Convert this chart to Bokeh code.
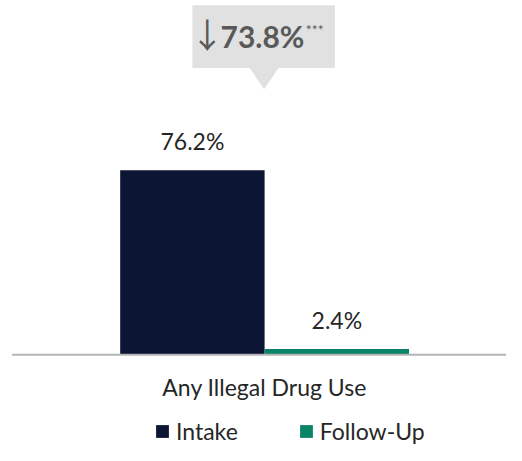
from bokeh.plotting import figure
from bokeh.models import Range1d, ColumnDataSource, Legend, LegendItem
from bokeh.core.properties import value
from bokeh.embed import file_html
from bokeh.resources import INLINE

# ---- data ----
categories = ["Any Illegal Drug Use"]
series = ["Intake", "Follow-Up"]
intake = [76.2]
follow_up = [2.4]
change = ["73.8%"]
colors = ["#0D1535", "#098467"]

FONT = "Lato"
W, H = 506, 445
X0, X1 = -0.5486, 0.5025

p = figure(width=W, height=H, output_backend="svg", toolbar_location=None,
           x_range=Range1d(X0, X1), y_range=Range1d(-37.5, 146.4),
           min_border=0, min_border_left=0, min_border_right=0,
           min_border_top=0, min_border_bottom=0)
p.axis.visible = False
p.grid.visible = False
p.outline_line_color = None
p.background_fill_color = "white"

bw = 0.3
xs = [i for i in range(len(categories))]
src_i = ColumnDataSource(dict(x=[x - bw / 2 for x in xs], top=intake,
                              lab=[f"{v:.1f}%" for v in intake]))
src_f = ColumnDataSource(dict(x=[x + bw / 2 for x in xs], top=follow_up,
                              lab=[f"{v:.1f}%" for v in follow_up]))
r1 = p.vbar(x="x", top="top", bottom=0, width=bw, source=src_i,
            fill_color=colors[0], line_color=None)
r2 = p.vbar(x="x", top="top", bottom=0, width=bw, source=src_f,
            fill_color=colors[1], line_color=None)

# baseline
p.segment(x0=[-0.5245], y0=[0], x1=[X1], y1=[0], line_color="#B4B4B4", line_width=2)

# value labels
for src in (src_i, src_f):
    p.text(x="x", y="top", text="lab", source=src, text_align="center",
           text_baseline="alphabetic", y_offset=-29, text_font=value(FONT),
           text_font_size="23px", text_color="#262626")

# category label
p.text(x=xs, y=[0] * len(xs), text=categories, text_align="center",
       text_baseline="middle", y_offset=32, text_font=value(FONT),
       text_font_size="23px", text_color="#262626")

# change callout
cx = xs[0]
p.quad(left=[cx - 0.150], right=[cx + 0.146], top=[144.4], bottom=[118.5],
       fill_color="#E1E1E1", line_color=None)
p.patch(x=[cx - 0.031, cx + 0.029, cx - 0.001], y=[118.5, 118.5, 109.7],
        fill_color="#E1E1E1", line_color=None)
p.text(x=[cx - 0.119], y=[132.6], text=["↓"], text_align="center",
       text_baseline="middle", text_font=value("Noto Sans CJK JP"),
       text_font_size="34px", text_color="#595959")
p.text(x=[cx - 0.0916], y=[131.8], text=change, text_align="left",
       text_baseline="middle", text_font=value(FONT), text_font_style="bold",
       text_font_size="30px", text_color="#595959")
p.text(x=[cx + 0.0856], y=[138.0], text=["***"], text_align="left",
       text_baseline="top", text_font=value(FONT),
       text_font_size="14px", text_color="#595959")

legend = Legend(items=[LegendItem(label=series[0], renderers=[r1]),
                       LegendItem(label=series[1], renderers=[r2])],
                orientation="horizontal", location=(154, 0),
                label_text_font=FONT, label_text_font_size="23px",
                label_text_color="#262626", glyph_width=16, glyph_height=16,
                label_standoff=6, spacing=60, padding=0, margin=0,
                border_line_color=None, background_fill_alpha=0)
p.add_layout(legend, "center")

open("out.html", "w").write(file_html(p, INLINE))
